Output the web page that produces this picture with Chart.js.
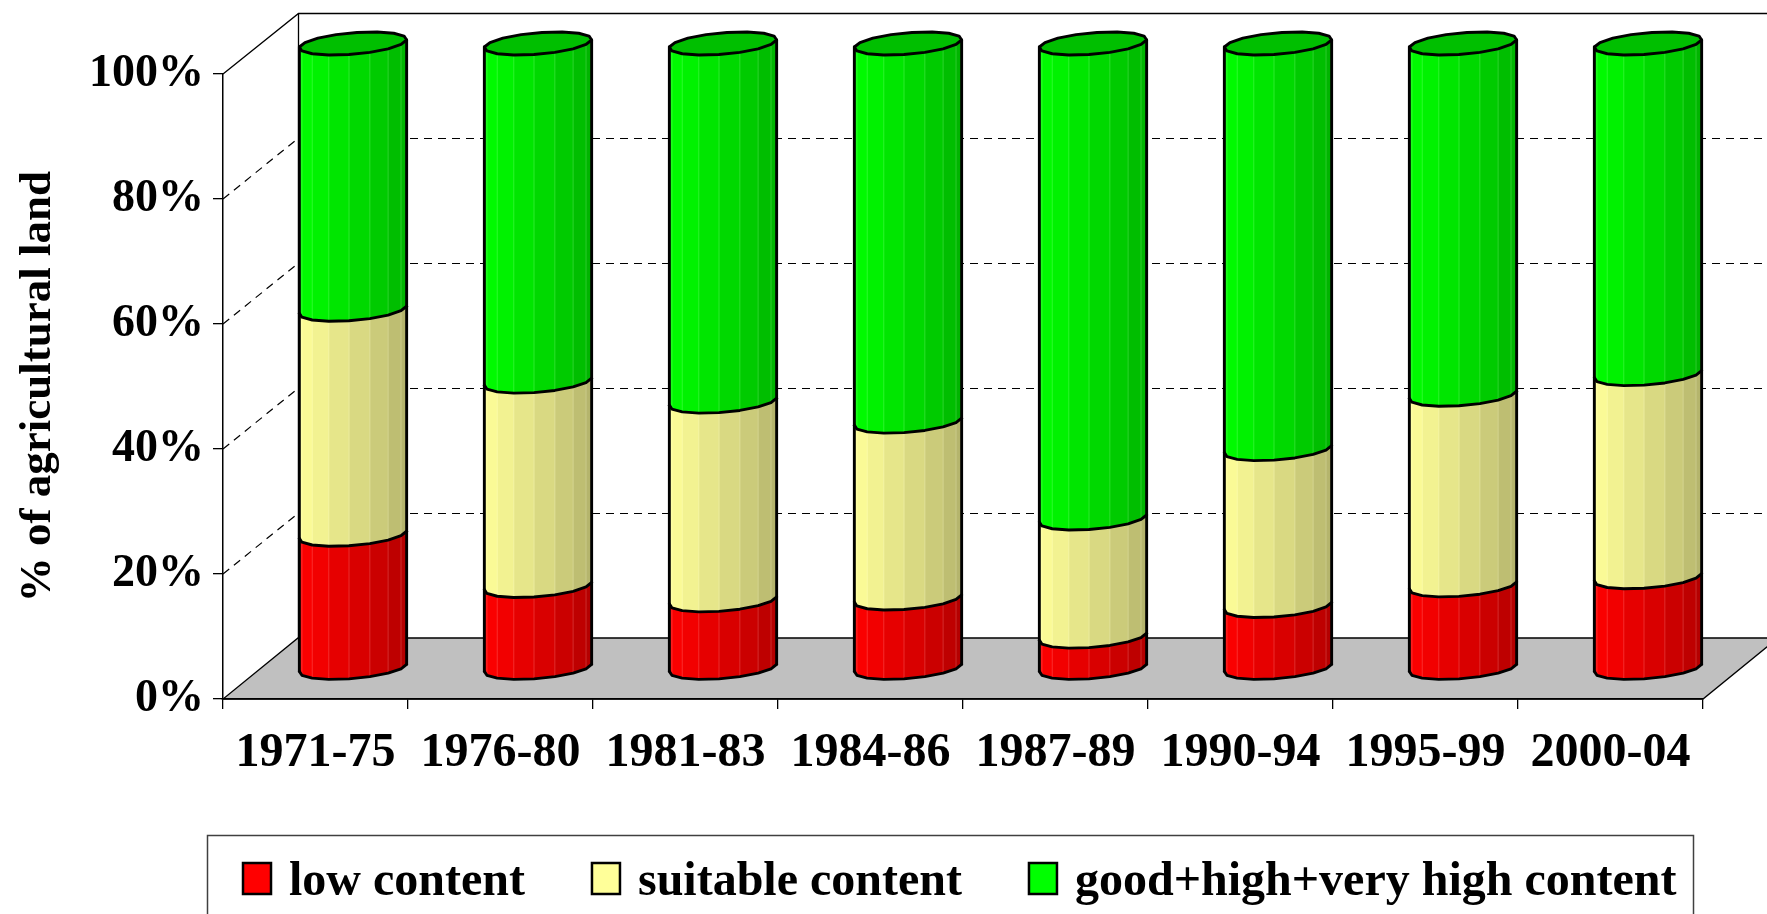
<!DOCTYPE html>
<html>
<head>
<meta charset="utf-8">
<script src="https://cdn.jsdelivr.net/npm/chart.js@4.4.1/dist/chart.umd.min.js"></script>
<style>
  html, body { margin: 0; padding: 0; background: #fff; overflow: hidden; }
  #wrap { width: 1767px; height: 914px; }
</style>
</head>
<body>
<div id="wrap"><canvas id="c" width="1767" height="914"></canvas></div>
<script>
// ---- data -------------------------------------------------------------
const categories = ['1971-75', '1976-80', '1981-83', '1984-86', '1987-89', '1990-94', '1995-99', '2000-04'];
const lowContent      = [21.4, 13.2, 10.9, 11.2,  5.1, 10.0, 13.3, 14.6];
const suitableContent = [36.0, 32.7, 31.8, 28.3, 18.9, 25.1, 30.5, 32.5];
const goodContent     = [42.6, 54.1, 57.3, 60.5, 76.0, 64.9, 56.2, 52.9];
const seriesNames  = ['low content', 'suitable content', 'good+high+very high content'];
const seriesColors = ['#ff0000', '#ffff99', '#00ff00'];
const yTickValues  = [0, 20, 40, 60, 80, 100];
const yAxisTitle   = '% of agricultural land';

// ---- styling ----------------------------------------------------------
const FONT = '"Liberation Serif", "Times New Roman", serif';
const DEPTH = { x: 75, y: -61 };                 // full depth of the 3-D box
const BAR_SHIFT = { x: DEPTH.x / 2, y: DEPTH.y / 2 }; // columns stand mid-depth
const ELL = { tilt: -3.5, fx: -4, fy: 11, facets: 8 }; // cylinder cross-section
const OUTLINE = 2.9;

function shade(hex, f) {
  const n = parseInt(hex.slice(1), 16);
  const r = Math.round(((n >> 16) & 255) * f);
  const g = Math.round(((n >> 8) & 255) * f);
  const b = Math.round((n & 255) * f);
  return `rgb(${r},${g},${b})`;
}

function ellPt(cx, cy, a, th) {
  return [cx + a * Math.cos(th) + ELL.fx * Math.sin(th),
          cy + ELL.tilt * Math.cos(th) + ELL.fy * Math.sin(th)];
}

function facetLight(th) {
  return 0.70 + 0.30 * Math.pow(Math.sin(th / 2), 1.5);
}

function drawSide(ctx, cx, yTop, yBot, a, color) {
  const M = ELL.facets;
  ctx.save();
  ctx.beginPath();
  for (let k = 0; k <= M; k++) {
    const p = ellPt(cx, yTop, a, k * Math.PI / M);
    k === 0 ? ctx.moveTo(p[0], p[1]) : ctx.lineTo(p[0], p[1]);
  }
  for (let k = M; k >= 0; k--) {
    const p = ellPt(cx, yBot, a, k * Math.PI / M);
    ctx.lineTo(p[0], p[1]);
  }
  ctx.closePath();
  ctx.clip();
  for (let k = 0; k < M; k++) {
    const t0 = k * Math.PI / M, t1 = (k + 1) * Math.PI / M;
    const x0 = ellPt(cx, 0, a, t0)[0], x1 = ellPt(cx, 0, a, t1)[0];
    ctx.fillStyle = shade(color, facetLight((t0 + t1) / 2));
    const lo = Math.min(x0, x1), hi = Math.max(x0, x1);
    ctx.fillRect(lo - 0.6, yTop - 30, hi - lo + 1.2, yBot - yTop + 60);
  }
  // faint facet seams
  ctx.strokeStyle = 'rgba(255,255,255,0.22)';
  ctx.lineWidth = 0.8;
  for (let k = 1; k < M; k++) {
    const x = ellPt(cx, 0, a, k * Math.PI / M)[0];
    ctx.beginPath(); ctx.moveTo(x, yTop - 30); ctx.lineTo(x, yBot + 30); ctx.stroke();
  }
  ctx.restore();

  // outline: both silhouettes and the front of the lower rim
  ctx.save();
  ctx.strokeStyle = '#000';
  ctx.lineWidth = OUTLINE;
  ctx.lineJoin = 'round';
  ctx.lineCap = 'round';
  const lt = ellPt(cx, yTop, a, Math.PI), lb = ellPt(cx, yBot, a, Math.PI);
  const rt = ellPt(cx, yTop, a, 0), rb = ellPt(cx, yBot, a, 0);
  ctx.beginPath(); ctx.moveTo(lt[0], lt[1]); ctx.lineTo(lb[0], lb[1]); ctx.stroke();
  ctx.beginPath(); ctx.moveTo(rt[0], rt[1]); ctx.lineTo(rb[0], rb[1]); ctx.stroke();
  ctx.beginPath();
  for (let k = 0; k <= M; k++) {
    const p = ellPt(cx, yBot, a, k * Math.PI / M);
    k === 0 ? ctx.moveTo(p[0], p[1]) : ctx.lineTo(p[0], p[1]);
  }
  ctx.stroke();
  ctx.restore();
}

function drawCap(ctx, cx, cy, a, color) {
  const M = ELL.facets * 2;
  ctx.save();
  ctx.beginPath();
  for (let k = 0; k < M; k++) {
    const p = ellPt(cx, cy, a, k * 2 * Math.PI / M);
    k === 0 ? ctx.moveTo(p[0], p[1]) : ctx.lineTo(p[0], p[1]);
  }
  ctx.closePath();
  ctx.fillStyle = shade(color, 0.75);
  ctx.fill();
  ctx.strokeStyle = '#000';
  ctx.lineWidth = OUTLINE;
  ctx.lineJoin = 'round';
  ctx.stroke();
  ctx.restore();
}

// back wall, side wall and floor of the 3-D box
const wallsPlugin = {
  id: 'walls3d',
  beforeDraw(chart) {
    const { ctx, chartArea: ca, scales } = chart;
    const y = scales.y;
    const L = ca.left, R = ca.right, B = ca.bottom;
    const dx = DEPTH.x, dy = DEPTH.y;
    const far = chart.width + dx;
    ctx.save();
    ctx.fillStyle = '#c0c0c0';
    ctx.beginPath();
    ctx.moveTo(L, B); ctx.lineTo(R, B); ctx.lineTo(R + dx, B + dy); ctx.lineTo(L + dx, B + dy);
    ctx.closePath();
    ctx.fill();
    ctx.strokeStyle = '#000';
    ctx.lineWidth = 1.3;
    ctx.stroke();

    ctx.setLineDash([8, 6]);
    ctx.lineWidth = 1.2;
    ctx.strokeStyle = '#000';
    yTickValues.forEach(v => {
      if (v === 0 || v === 100) return;
      const py = y.getPixelForValue(v);
      const by = Math.round(py + dy) + 0.5;
      ctx.beginPath();
      ctx.moveTo(L, py); ctx.lineTo(L + dx, by);
      ctx.stroke();
      ctx.beginPath();
      ctx.moveTo(L + dx, by); ctx.lineTo(far, by);
      ctx.stroke();
    });
    ctx.setLineDash([]);

    const pt = y.getPixelForValue(100);
    const bt = Math.round(pt + dy) + 0.5;
    const bx = Math.round(L + dx) + 0.5;
    ctx.strokeStyle = '#000';
    ctx.lineWidth = 1.3;
    ctx.beginPath();
    ctx.moveTo(L, pt); ctx.lineTo(bx, bt); ctx.lineTo(far, bt);
    ctx.stroke();
    ctx.beginPath();
    ctx.moveTo(bx, bt); ctx.lineTo(bx, B + dy);
    ctx.stroke();
    ctx.restore();
  }
};

// stacked columns rendered as shaded cylinders
const cylinderPlugin = {
  id: 'cylinders',
  beforeDatasetsDraw(chart) {
    const ctx = chart.ctx;
    const sets = chart.data.datasets;
    const n = chart.data.labels.length;
    for (let j = 0; j < n; j++) {
      let top = null;
      sets.forEach((ds, i) => {
        const el = chart.getDatasetMeta(i).data[j];
        const p = el.getProps(['x', 'y', 'base', 'width'], true);
        const cx = p.x + BAR_SHIFT.x;
        const yTop = Math.min(p.y, p.base) + BAR_SHIFT.y;
        const yBot = Math.max(p.y, p.base) + BAR_SHIFT.y;
        const a = p.width / 2;
        drawSide(ctx, cx, yTop, yBot, a, ds.backgroundColor);
        top = { cx, yTop, a, color: ds.backgroundColor };
      });
      if (top) drawCap(ctx, top.cx, top.yTop, top.a, top.color);
    }
    return false;
  }
};

// boxed legend along the bottom
const legendPlugin = {
  id: 'boxLegend',
  afterDraw(chart) {
    const ctx = chart.ctx;
    ctx.save();
    ctx.strokeStyle = '#404040';
    ctx.lineWidth = 1.5;
    ctx.strokeRect(207.5, 835.5, 1486, 140);
    ctx.font = `bold 48px ${FONT}`;
    ctx.textBaseline = 'alphabetic';
    ctx.textAlign = 'left';
    let x = 243;
    chart.data.datasets.forEach(ds => {
      ctx.fillStyle = ds.backgroundColor;
      ctx.fillRect(x, 863, 28, 31);
      ctx.lineWidth = 2.5;
      ctx.strokeStyle = '#000';
      ctx.strokeRect(x, 863, 28, 31);
      ctx.fillStyle = '#000';
      ctx.fillText(ds.label, x + 46, 895);
      x += 46 + ctx.measureText(ds.label).width + 67;
    });
    ctx.restore();
  }
};

const seriesValues = [lowContent, suitableContent, goodContent];

new Chart(document.getElementById('c'), {
  type: 'bar',
  data: {
    labels: categories,
    datasets: seriesValues.map((vals, i) => ({
      label: seriesNames[i],
      data: vals,
      backgroundColor: seriesColors[i],
      borderColor: '#000',
      borderWidth: 0,
      barPercentage: 0.58,
      categoryPercentage: 1.0
    }))
  },
  options: {
    responsive: false,
    animation: false,
    devicePixelRatio: 1,
    layout: { padding: { left: 0, right: 64, top: 74, bottom: 115 } },
    plugins: { legend: { display: false }, tooltip: { enabled: false } },
    scales: {
      x: {
        stacked: true,
        grid: { offset: true, drawOnChartArea: false, drawTicks: true, tickLength: 10, color: '#000', lineWidth: 1.3 },
        border: { display: true, color: '#000', width: 1.5 },
        ticks: { font: { family: FONT, size: 48, weight: 'bold' }, color: '#000', padding: 16, maxRotation: 0, autoSkip: false },
        afterFit(scale) { scale.height = 100; }
      },
      y: {
        stacked: true,
        min: 0,
        max: 100,
        afterBuildTicks(scale) { scale.ticks = yTickValues.map(v => ({ value: v })); },
        grid: { drawOnChartArea: false, drawTicks: true, tickLength: 10, color: '#000', lineWidth: 1.3 },
        border: { display: true, color: '#000', width: 1.5 },
        ticks: { font: { family: FONT, size: 46, weight: 'bold' }, color: '#000', padding: 9,
                 callback: v => v + '%' },
        title: { display: true, text: yAxisTitle, color: '#000',
                 font: { family: FONT, size: 45, weight: 'bold' }, padding: { top: 11, bottom: 0 } },
        afterFit(scale) { scale.width = 223; }
      }
    }
  },
  plugins: [wallsPlugin, cylinderPlugin, legendPlugin]
});
</script>
</body>
</html>
